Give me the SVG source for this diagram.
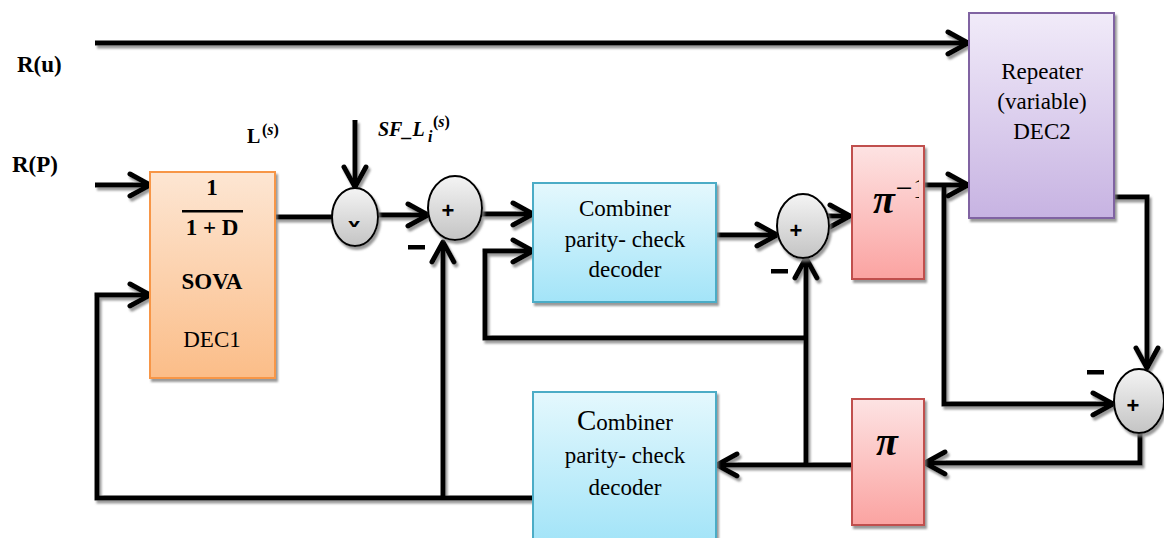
<svg xmlns="http://www.w3.org/2000/svg" width="1164" height="538" viewBox="0 0 1164 538">
  <style>
    .wire { fill: none; stroke: #000; stroke-width: 5; stroke-linecap: butt; stroke-linejoin: miter; }
    .arrow { marker-end: url(#arr); }
    .box { stroke-width: 2; }
    .sum { fill: url(#gGrey); stroke: #000; stroke-width: 2; }
    text { font-family: 'Liberation Serif', 'Times New Roman', Tinos, 'DejaVu Serif', serif; fill: #000; }
    .b { font-weight: bold; }
    .c { text-anchor: middle; }
    .plus { font-family: 'Liberation Sans', Arial, sans-serif; font-weight: bold; font-size: 22px; text-anchor: middle; }
    .minus { fill: #000; }
  </style>
  <defs>
    <linearGradient id="gOrange" x1="0" y1="0" x2="0" y2="1">
      <stop offset="0" stop-color="#fde6d3"/>
      <stop offset="1" stop-color="#fbbd88"/>
    </linearGradient>
    <linearGradient id="gCyan" x1="0" y1="0" x2="0" y2="1">
      <stop offset="0" stop-color="#e4f8fd"/>
      <stop offset="1" stop-color="#a3e4f8"/>
    </linearGradient>
    <linearGradient id="gPink" x1="0" y1="0" x2="0" y2="1">
      <stop offset="0" stop-color="#fde3e3"/>
      <stop offset="1" stop-color="#fba3a1"/>
    </linearGradient>
    <linearGradient id="gPurple" x1="0" y1="0" x2="0" y2="1">
      <stop offset="0" stop-color="#f1ebf9"/>
      <stop offset="1" stop-color="#c7b3e2"/>
    </linearGradient>
    <linearGradient id="gGrey" x1="0" y1="0" x2="0" y2="1">
      <stop offset="0" stop-color="#f4f4f4"/>
      <stop offset="1" stop-color="#c4c4c4"/>
    </linearGradient>
    <filter id="shadow" filterUnits="userSpaceOnUse" x="0" y="0" width="1164" height="538">
      <feDropShadow dx="2" dy="3" stdDeviation="0.8" flood-color="#808080" flood-opacity="0.8"/>
    </filter>
    <marker id="arr" viewBox="-24 -14 28 28" markerWidth="28" markerHeight="28" refX="0" refY="0" orient="auto" markerUnits="userSpaceOnUse">
      <path d="M-20,-11 L0,0 L-20,11" fill="none" stroke="#000" stroke-width="5" stroke-linecap="round" stroke-linejoin="round"/>
    </marker>
    <clipPath id="clipPiInv">
      <rect x="852" y="146" width="67" height="133"/>
    </clipPath>
    <clipPath id="clipX">
      <rect x="340" y="200" width="30" height="27"/>
    </clipPath>
  </defs>

  <rect width="1164" height="538" fill="#fff"/>

  <!-- connectors -->
  <g id="connectors" filter="url(#shadow)">
    <!-- R(u) straight to the repeater -->
    <path class="wire arrow" d="M95,43 H968"/>
    <!-- R(P) into DEC1 -->
    <path class="wire arrow" d="M95,185 H150"/>
    <!-- DEC1 output to multiplier -->
    <path class="wire" d="M275,217 H332"/>
    <!-- scaling factor into multiplier -->
    <path class="wire arrow" d="M355,120 V187"/>
    <!-- multiplier to first adder -->
    <path class="wire arrow" d="M378,215 H428"/>
    <!-- first adder to upper combiner -->
    <path class="wire arrow" d="M482,214 H533"/>
    <!-- subtracted input of first adder -->
    <path class="wire arrow" d="M443,498 V242"/>
    <!-- loop back into upper combiner -->
    <path class="wire arrow" d="M806,338 H485 V251 H533"/>
    <!-- upper combiner to second adder -->
    <path class="wire arrow" d="M716,235 H777"/>
    <!-- subtracted input of second adder -->
    <path class="wire arrow" d="M806,466 V258"/>
    <!-- second adder to deinterleaver -->
    <path class="wire arrow" d="M828,216 H850"/>
    <!-- deinterleaver to repeater -->
    <path class="wire arrow" d="M924,185 H968"/>
    <!-- deinterleaver branch to third adder -->
    <path class="wire arrow" d="M944,185 V404 H1113"/>
    <!-- repeater output to third adder -->
    <path class="wire arrow" d="M1110,197 H1147 V368"/>
    <!-- third adder to interleaver -->
    <path class="wire arrow" d="M1140,433 V463 H925"/>
    <!-- interleaver to lower combiner -->
    <path class="wire arrow" d="M852,465 H717"/>
    <!-- lower combiner back into DEC1 -->
    <path class="wire arrow" d="M533,498 H97 V295 H150"/>
  </g>

  <!-- DEC1: SOVA decoder -->
  <g id="dec1">
    <rect class="box" x="150" y="172" width="125" height="206" fill="url(#gOrange)" stroke="#f79646" filter="url(#shadow)"/>
    <text class="b c" x="212" y="195" font-size="23">1</text>
    <rect x="182" y="210" width="61" height="2.5" fill="#000"/>
    <text class="b c" x="212" y="235" font-size="23">1 + D</text>
    <text class="b c" x="212" y="289" font-size="23">SOVA</text>
    <text class="c" x="212" y="347" font-size="23">DEC1</text>
  </g>

  <!-- upper combiner / parity-check decoder -->
  <g id="combiner-top">
    <rect class="box" x="533" y="183" width="183" height="119" fill="url(#gCyan)" stroke="#4bacc6" filter="url(#shadow)"/>
    <text class="c" x="625" y="216" font-size="23">Combiner</text>
    <text class="c" x="625" y="247" font-size="23">parity- check</text>
    <text class="c" x="625" y="277" font-size="23">decoder</text>
  </g>

  <!-- lower combiner / parity-check decoder -->
  <g id="combiner-bottom">
    <rect class="box" x="533" y="392" width="183" height="150" fill="url(#gCyan)" stroke="#4bacc6" filter="url(#shadow)"/>
    <text class="c" x="625" y="430" font-size="23"><tspan font-size="29">C</tspan>ombiner</text>
    <text class="c" x="625" y="463" font-size="23">parity- check</text>
    <text class="c" x="625" y="495" font-size="23">decoder</text>
  </g>

  <!-- deinterleaver (exponent runs past the box edge and is cut off) -->
  <g id="deinterleaver">
    <rect class="box" x="852" y="146" width="72" height="133" fill="url(#gPink)" stroke="#c0504d" filter="url(#shadow)"/>
    <g clip-path="url(#clipPiInv)">
      <text class="b" x="873" y="213" font-size="40" font-style="italic">π<tspan font-size="30" dx="1" dy="-15" font-style="normal" font-weight="normal">−1</tspan></text>
    </g>
  </g>

  <!-- interleaver -->
  <g id="interleaver">
    <rect class="box" x="852" y="399" width="72" height="126" fill="url(#gPink)" stroke="#c0504d" filter="url(#shadow)"/>
    <text class="b c" x="887" y="455" font-size="40" font-style="italic">π</text>
  </g>

  <!-- DEC2: repeater -->
  <g id="dec2">
    <rect class="box" x="969" y="13" width="145" height="205" fill="url(#gPurple)" stroke="#8064a2" filter="url(#shadow)"/>
    <text class="c" x="1042" y="79" font-size="23">Repeater</text>
    <text class="c" x="1042" y="109" font-size="23">(variable)</text>
    <text class="c" x="1042" y="139" font-size="23">DEC2</text>
  </g>

  <!-- multiplier -->
  <g id="multiplier">
    <ellipse class="sum" cx="355" cy="217" rx="23" ry="29" filter="url(#shadow)"/>
    <g clip-path="url(#clipX)">
      <text class="plus" x="354" y="233" font-size="16">x</text>
    </g>
  </g>

  <!-- first adder -->
  <g id="adder1">
    <ellipse class="sum" cx="455" cy="208" rx="27" ry="32" filter="url(#shadow)"/>
    <text class="plus" x="448" y="218">+</text>
    <rect class="minus" x="408" y="245" width="17" height="4.5"/>
  </g>

  <!-- second adder -->
  <g id="adder2">
    <ellipse class="sum" cx="803" cy="226" rx="26" ry="32" filter="url(#shadow)"/>
    <text class="plus" x="796" y="238">+</text>
    <rect class="minus" x="771" y="269" width="17" height="4.5"/>
  </g>

  <!-- third adder -->
  <g id="adder3">
    <ellipse class="sum" cx="1139" cy="401" rx="25" ry="32" filter="url(#shadow)"/>
    <text class="plus" x="1133" y="413">+</text>
    <rect class="minus" x="1087" y="370" width="17" height="4.5"/>
  </g>

  <!-- input and signal labels -->
  <g id="labels">
    <text class="b" x="17" y="72" font-size="23">R(u)</text>
    <text class="b" x="12" y="172" font-size="23">R(P)</text>
    <text class="b" x="247" y="143" font-size="20">L</text>
    <text class="b" x="262" y="135" font-size="16">(<tspan font-style="italic">s</tspan>)</text>
    <text class="b" x="378" y="136" font-size="20" font-style="italic">SF_L</text>
    <text class="b" x="428" y="142" font-size="16" font-style="italic">i</text>
    <text class="b" x="433" y="127" font-size="16">(<tspan font-style="italic">s</tspan>)</text>
  </g>
</svg>
